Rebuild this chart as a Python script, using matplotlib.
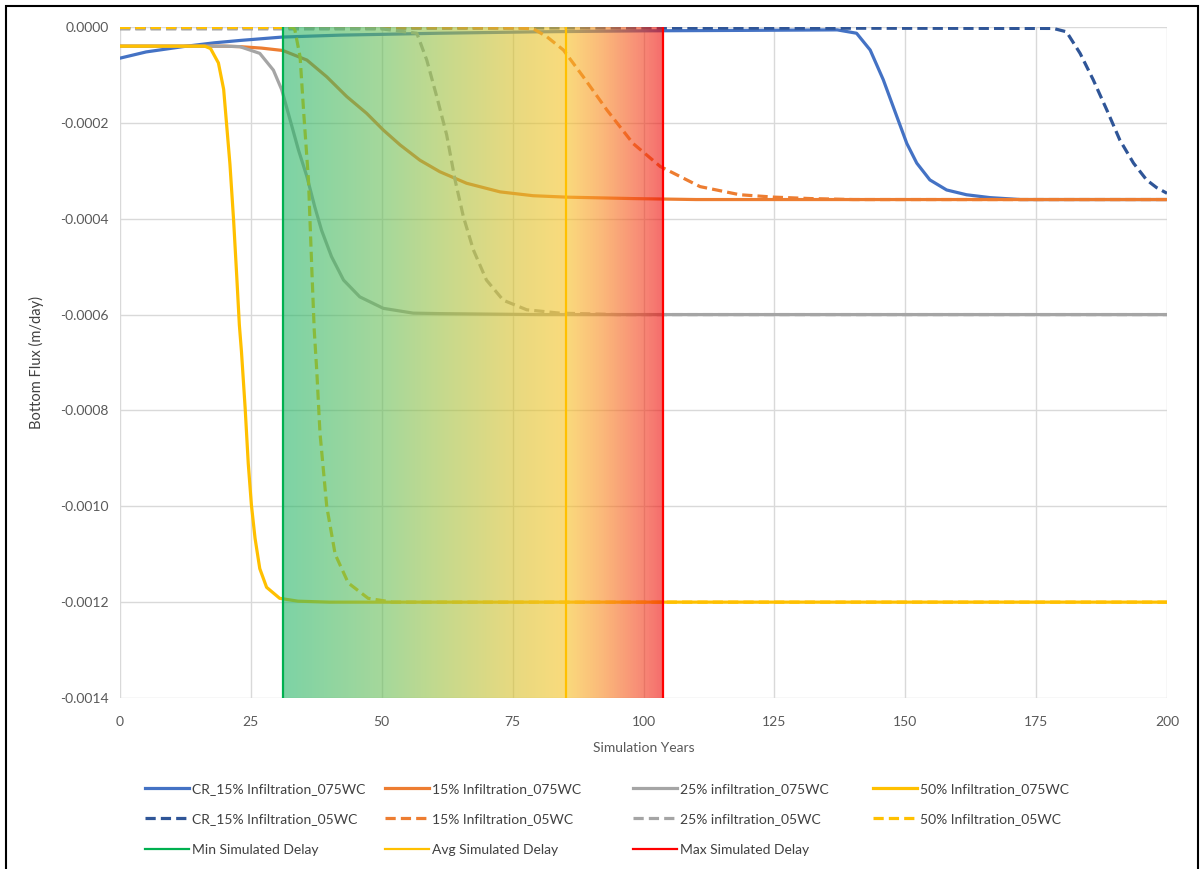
import numpy as np
import matplotlib
matplotlib.use("Agg")
import matplotlib.pyplot as plt
from matplotlib.colors import LinearSegmentedColormap
from matplotlib.patches import Rectangle
from matplotlib.lines import Line2D

# ---- data (x = simulation years, y = bottom flux m/day) ----
cr15_075_x = [0, 5, 12, 18, 23, 31, 42, 61, 80, 100, 120, 137, 140.7, 143.3, 145.8, 148.4,
              150.3, 152.2, 154.7, 157.9, 161.7, 166.2, 172, 200]
cr15_075_y = [-0.000065, -0.000052, -0.000041, -0.000033, -0.000028, -0.000021, -0.000017,
              -0.000013, -0.000010, -0.000008, -0.000007, -0.000006, -0.000013,
              -0.000048, -0.00011, -0.000187, -0.000243, -0.000284, -0.000319, -0.00034,
              -0.00035, -0.000356, -0.00036, -0.00036]

cr15_05_x = [0, 100, 178.3, 180.8, 183.4, 185.9, 188.5, 191, 193.6, 196.1, 198, 200]
cr15_05_y = [-0.000002, -0.000002, -0.000003, -0.00001, -0.000055, -0.00011, -0.000173,
             -0.000236, -0.000284, -0.000319, -0.000335, -0.000347]

inf15_075_x = [0, 10, 20, 22.9, 27, 31.1, 35.7, 39.5, 43.3, 47.1, 50.3, 53.5, 57.3, 61.1,
               66.2, 72.6, 78.9, 85.3, 98, 110, 200]
inf15_075_y = [-0.00004, -0.00004, -0.00004, -0.000041, -0.000044, -0.000049, -0.000069,
               -0.000104, -0.000145, -0.00018, -0.000215, -0.000246, -0.000278, -0.000302,
               -0.000326, -0.000344, -0.000352, -0.000355, -0.000358, -0.00036, -0.00036]

inf15_05_x = [0, 60, 76, 79, 81.5, 84.7, 88.5, 93, 98, 103.2, 110.8, 118.4, 125, 132, 140, 200]
inf15_05_y = [-0.000002, -0.000002, -0.000002, -0.000004, -0.00002, -0.000048, -0.000104,
              -0.000173, -0.000243, -0.000291, -0.000333, -0.00035, -0.000355, -0.000358,
              -0.00036, -0.00036]

inf25_075_x = [0, 15, 20, 22.9, 26.7, 29.3, 30.9, 32.5, 34.1, 35.7, 37.2, 38.5, 40.4, 42.7,
               45.8, 50.3, 56, 61, 80, 200]
inf25_075_y = [-0.00004, -0.00004, -0.00004, -0.000041, -0.000055, -0.00009, -0.000131,
               -0.000194, -0.000257, -0.000312, -0.000375, -0.000424, -0.000479, -0.000528,
               -0.000563, -0.000587, -0.000597, -0.000598, -0.0006, -0.0006]

inf25_05_x = [0, 50, 56.7, 58.6, 60.5, 62.4, 64, 65.6, 67.5, 70, 73.2, 77.7, 84, 95, 200]
inf25_05_y = [-0.000004, -0.000004, -0.000013, -0.000069, -0.000145, -0.000225, -0.000319,
              -0.000396, -0.000465, -0.000528, -0.00057, -0.00059, -0.000597, -0.0006, -0.0006]

inf50_075_x = [0, 10, 16.2, 17.3, 18.8, 19.8, 20.4, 21.0, 21.7, 22.3, 22.8, 23.2, 23.9, 24.5,
               25.1, 25.8, 26.7, 28, 30.5, 34, 40, 200]
inf50_075_y = [-0.00004, -0.00004, -0.00004, -0.000045, -0.000075, -0.00013, -0.000208,
               -0.000286, -0.000403, -0.00052, -0.000622, -0.000677, -0.000794, -0.000911,
               -0.000997, -0.001067, -0.00113, -0.001169, -0.001192, -0.001198, -0.0012, -0.0012]

inf50_05_x = [0, 20, 33, 33.4, 34.4, 35.1, 36.0, 36.6, 37.1, 37.6, 38.2, 39.5, 41.1, 43.6,
              47.4, 52, 200]
inf50_05_y = [-0.000001, -0.000001, -0.000001, -0.000006, -0.000062, -0.00018, -0.000319,
              -0.000493, -0.000632, -0.00072, -0.000847, -0.001001, -0.0011, -0.00116,
              -0.001192, -0.0012, -0.0012]

delay_names = ["Min Simulated Delay", "Avg Simulated Delay", "Max Simulated Delay"]
delay_years = [31.1, 85.2, 103.7]

x_ticks = [0, 25, 50, 75, 100, 125, 150, 175, 200]
y_ticks = [0.0, -0.0002, -0.0004, -0.0006, -0.0008, -0.0010, -0.0012, -0.0014]

# ---- styling ----
plt.rcParams['font.family'] = ['Lato', 'DejaVu Sans']
BLUE, BLUE_D = '#4472C4', '#2F5597'
ORANGE, GRAY, YELLOW = '#ED7D31', '#A5A5A5', '#FFC000'
DELAY_COLORS = ['#00B050', '#FFC000', '#FF0000']
TXT = '#595959'
LW = 2.3
DASH = (3.2, 1.6)

fig = plt.figure(figsize=(12.04, 8.69), dpi=100)
ax = fig.add_axes([120 / 1204, 1 - 698 / 869, (1167 - 120) / 1204, (698 - 27) / 869])

series = [
    (cr15_075_x, cr15_075_y, BLUE, '-', "CR_15% Infiltration_075WC"),
    (inf15_075_x, inf15_075_y, ORANGE, '-', "15% Infiltration_075WC"),
    (inf25_075_x, inf25_075_y, GRAY, '-', "25% infiltration_075WC"),
    (inf50_075_x, inf50_075_y, YELLOW, '-', "50% Infiltration_075WC"),
    (cr15_05_x, cr15_05_y, BLUE_D, '--', "CR_15% Infiltration_05WC"),
    (inf15_05_x, inf15_05_y, ORANGE, '--', "15% Infiltration_05WC"),
    (inf25_05_x, inf25_05_y, GRAY, '--', "25% infiltration_05WC"),
    (inf50_05_x, inf50_05_y, YELLOW, '--', "50% Infiltration_05WC"),
]
handles = {}
for xs, ys, col, ls, name in series:
    ln, = ax.plot(xs, ys, color=col, lw=LW, zorder=2, solid_joinstyle='round')
    if ls == '--':
        ln.set_dashes(DASH)
    handles[name] = ln

# gradient band between min and max delay, drawn over the curves half-transparent
alpha = 0.6
seen = [(0.0, (125, 211, 165)), (0.26, (165, 216, 155)), (0.43, (200, 218, 140)),
        (0.61, (232, 218, 128)), (0.745, (250, 219, 124)), (0.84, (251, 185, 122)),
        (0.95, (248, 136, 118)), (1.0, (245, 108, 108))]
stops = []
for pos, rgb in seen:
    c = [min(max((v - (1 - alpha) * 255) / alpha, 0), 255) / 255 for v in rgb]
    stops.append((pos, c))
cmap = LinearSegmentedColormap.from_list('delay', stops)
grad = np.linspace(0, 1, 400).reshape(1, -1)
ax.imshow(grad, cmap=cmap, alpha=alpha, aspect='auto', interpolation='bilinear',
          extent=[delay_years[0], delay_years[2], -0.0014, 0.0], zorder=3)

for yr, col, name in zip(delay_years, DELAY_COLORS, delay_names):
    handles[name] = ax.axvline(yr, color=col, lw=1.6, zorder=4)

ax.set_xlim(0, 200)
ax.set_ylim(-0.0014, 0.0)
ax.set_xticks(x_ticks)
ax.set_yticks(y_ticks)
ax.set_yticklabels(["%.4f" % v for v in y_ticks])
ax.grid(True, color='#D9D9D9', lw=1.0, zorder=0)
ax.set_axisbelow(True)
for s in ax.spines.values():
    s.set_visible(False)
ax.tick_params(length=0, labelsize=10, colors=TXT)
ax.tick_params(axis='x', pad=13)
ax.tick_params(axis='y', pad=8)
ax.set_xlabel("Simulation Years", fontsize=10, color=TXT, labelpad=10)
ax.set_ylabel("Bottom Flux (m/day)", fontsize=10.5, color='#404040', labelpad=12)

# legend, one block per column so the columns sit where they do in the picture
columns = [
    ["CR_15% Infiltration_075WC", "CR_15% Infiltration_05WC", "Min Simulated Delay"],
    ["15% Infiltration_075WC", "15% Infiltration_05WC", "Avg Simulated Delay"],
    ["25% infiltration_075WC", "25% infiltration_05WC", "Max Simulated Delay"],
    ["50% Infiltration_075WC", "50% Infiltration_05WC"],
]
col_x = [145, 385, 633, 873]
for names, cx in zip(columns, col_x):
    hs = []
    for n in names:
        h = handles[n]
        proxy = Line2D([], [], color=h.get_color(), lw=h.get_linewidth())
        if h.get_linestyle() == '--':
            proxy.set_dashes(DASH)
        hs.append(proxy)
    fig.legend(hs, names, loc='upper left', bbox_to_anchor=(cx / 1204, 1 - 783 / 869),
               frameon=False, fontsize=10, labelcolor='#404040', handlelength=3.2,
               handletextpad=0.2, labelspacing=1.32, borderpad=0, borderaxespad=0)

fig.patches.append(Rectangle((6 / 1204, -0.01), 1192 / 1204, 1.01 - 6 / 869, fill=False,
                             edgecolor='black', lw=1.5, transform=fig.transFigure, figure=fig))

fig.savefig("out.png", dpi=100)
